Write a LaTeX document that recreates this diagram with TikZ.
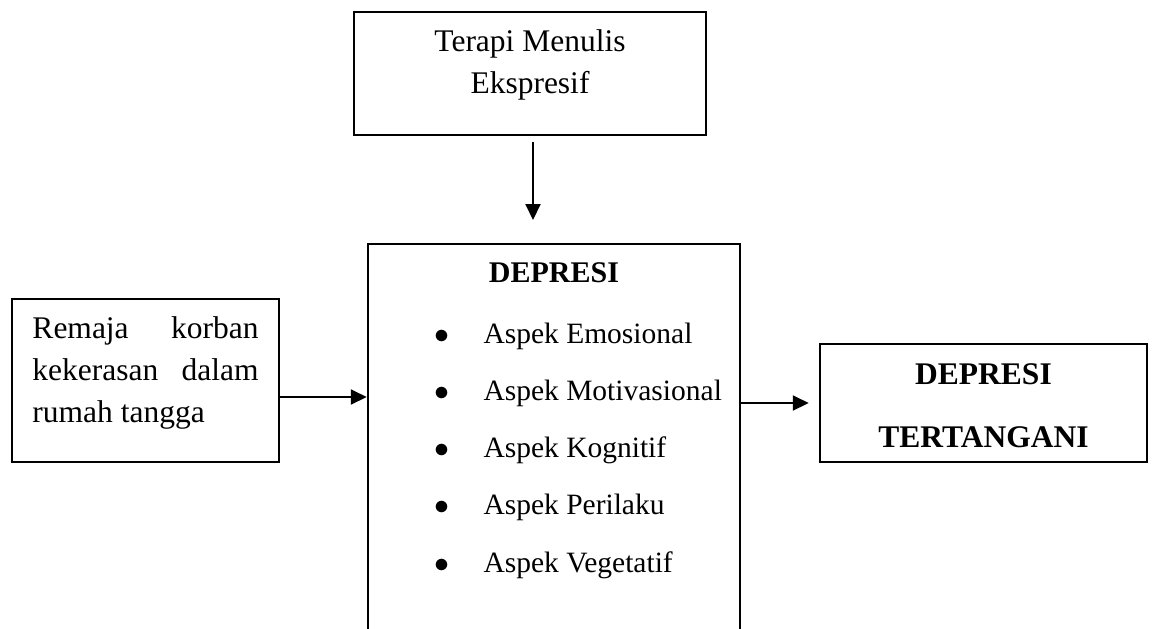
\documentclass[tikz,border=0pt]{standalone}
\usepackage{fontspec}
\setmainfont{Liberation Serif}
\usetikzlibrary{arrows.meta}

\begin{document}
\begin{tikzpicture}[x=0.4pt,y=-0.4pt,
        box/.style={draw,line width=0.8pt,inner sep=0pt,text depth=3pt},
        arr/.style={line width=0.8pt,-{Triangle[length=6.4pt,width=6pt]}}]
        % kerangka konsep
        \useasboundingbox (0,0) rectangle (1152,628);
        \clip (0,0) rectangle (1152,628);
        \node[box,minimum width=141pt,minimum height=49.2pt,text height=18.6pt,align=center,
              font=\fontsize{12.6pt}{16.6pt}\selectfont] (terapi) at (530,73.5) {Terapi Menulis\\Ekspresif};
        \node[box,minimum width=107pt,minimum height=65.2pt,text height=36.2pt,align=left,
              font=\fontsize{12.6pt}{16.8pt}\selectfont] (remaja) at (145.5,380.5)
              {\makebox[90.4pt][s]{Remaja korban}\\\makebox[90.4pt][s]{kekerasan dalam}\\rumah tangga};
        \node[box,minimum width=149pt,minimum height=182.4pt,text height=83pt,align=center,
              font=\fontsize{11.8pt}{22.9pt}\selectfont] (depresi) at (554,472)
              {\fontsize{12pt}{22.9pt}\selectfont\textbf{DEPRESI}\\[1.5pt]
               \makebox[96pt][l]{\makebox[19.8pt][l]{$\bullet$}Aspek Emosional}\\
               \makebox[96pt][l]{\makebox[19.8pt][l]{$\bullet$}Aspek Motivasional}\\
               \makebox[96pt][l]{\makebox[19.8pt][l]{$\bullet$}Aspek Kognitif}\\
               \makebox[96pt][l]{\makebox[19.8pt][l]{$\bullet$}Aspek Perilaku}\\
               \makebox[96pt][l]{\makebox[19.8pt][l]{$\bullet$}Aspek Vegetatif}};
        \node[box,minimum width=131pt,minimum height=47.2pt,text height=38.2pt,align=center,
              font=\fontsize{12.6pt}{25.2pt}\selectfont\bfseries] (hasil) at (983.5,403) {DEPRESI\\TERTANGANI};
        % panah
        \path (terapi.south) ++(3,84) coordinate (ujung);
        \draw[arr] ([shift={(3,6)}]terapi.south) -- (ujung);
        \coordinate (kiri) at ([shift={(0,16.5)}]remaja.east);
        \draw[arr] (kiri) -- (kiri -| depresi.west);
        \draw[arr] (depresi.east |- hasil.west) -- ([shift={(-10,0)}]hasil.west);
    \end{tikzpicture}
\end{document}
